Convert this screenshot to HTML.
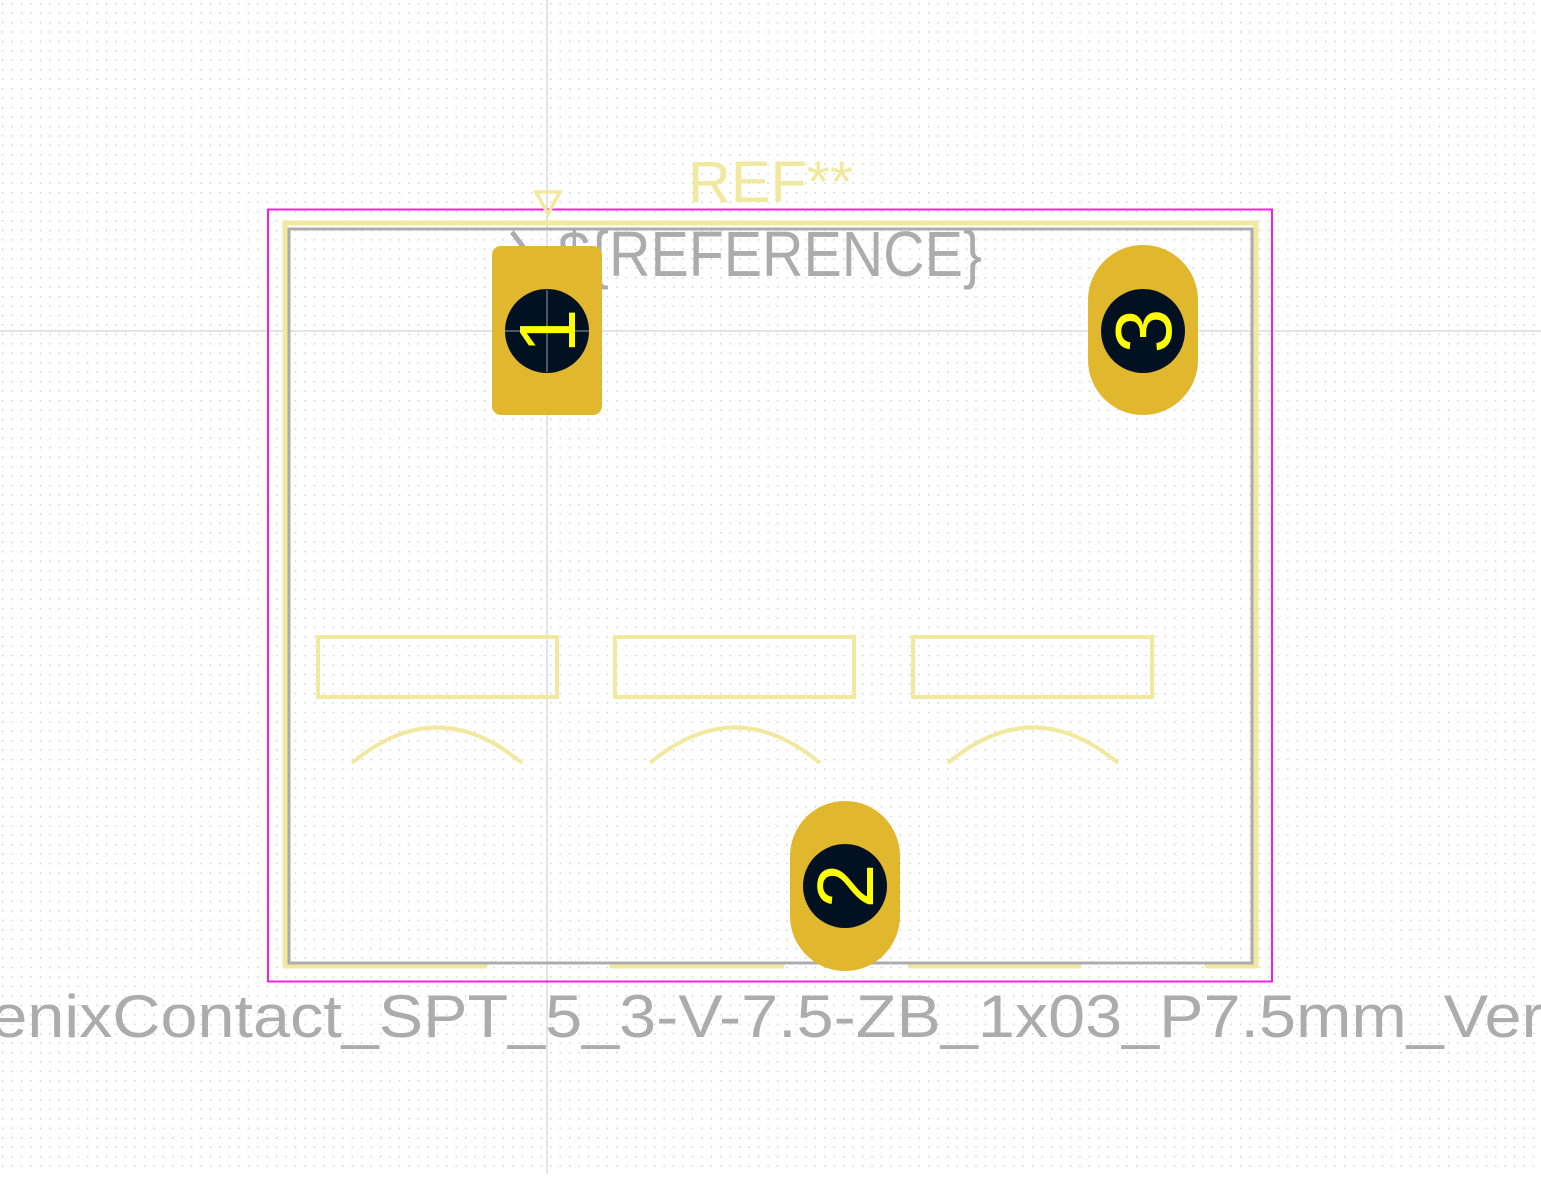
<!DOCTYPE html>
<html><head><meta charset="utf-8"><style>html,body{margin:0;padding:0;background:#fff;overflow:hidden}</style></head>
<body>
<svg width="1541" height="1174" viewBox="0 0 1541 1174" xmlns="http://www.w3.org/2000/svg">
<defs>
<pattern id="g" x="2" y="3" width="9.45" height="9.45" patternUnits="userSpaceOnUse">
<rect width="1.3" height="1.3" fill="#c4c4c4"/>
</pattern>
</defs>
<rect width="1541" height="1174" fill="#fff"/>
<rect width="1541" height="1174" fill="url(#g)"/>
<line x1="547" y1="0" x2="547" y2="1174" stroke="#c8c8c8" stroke-width="1"/>
<line x1="0" y1="331" x2="1541" y2="331" stroke="#c8c8c8" stroke-width="1"/>
<rect x="268" y="209.5" width="1004" height="772" fill="none" stroke="#f020e0" stroke-width="2"/>
<path d="M1256 966 V223 H285 V966" fill="none" stroke="#f2e9a0" stroke-width="5"/>
<g stroke="#f2e9a0" stroke-width="5" stroke-linecap="round">
<line x1="285" y1="966" x2="485" y2="966"/>
<line x1="612" y1="966" x2="782" y2="966"/>
<line x1="910" y1="966" x2="1079" y2="966"/>
<line x1="1207" y1="966" x2="1256" y2="966"/>
</g>
<rect x="289" y="229" width="963" height="734" fill="none" stroke="#acacac" stroke-width="3"/>
<g fill="none" stroke="#f2e9a0" stroke-width="4">
<rect x="318" y="637" width="239" height="60"/>
<rect x="615" y="637" width="239" height="60"/>
<rect x="913" y="637" width="239" height="60"/>
<path d="M352 763 Q437 692 522 763"/>
<path d="M650 763 Q735 692 820 763"/>
<path d="M948 763 Q1033 692 1118 763"/>
<path d="M536 192 H560 L548 214 Z" stroke-width="3.5"/>
</g>
<text x="688" y="202" font-family="Liberation Sans, sans-serif" font-size="58" fill="#f2e9a0" textLength="165" lengthAdjust="spacingAndGlyphs">REF**</text>
<text x="558" y="276" font-family="Liberation Sans, sans-serif" font-size="64" fill="#acacac" textLength="424" lengthAdjust="spacingAndGlyphs">${REFERENCE}</text>
<line x1="512" y1="232" x2="524" y2="248" stroke="#acacac" stroke-width="5"/>
<text x="-128" y="1037" font-family="Liberation Sans, sans-serif" font-size="60" fill="#acacac" textLength="1790" lengthAdjust="spacingAndGlyphs">PhoenixContact_SPT_5_3-V-7.5-ZB_1x03_P7.5mm_Vertical</text>
<rect x="492" y="246" width="110" height="169" rx="9" fill="#e1b72e"/>
<rect x="1088" y="245" width="110" height="170" rx="55" fill="#e1b72e"/>
<rect x="790" y="801" width="110" height="170" rx="55" fill="#e1b72e"/>
<g fill="#021122">
<circle cx="547" cy="331" r="42"/>
<circle cx="1143" cy="331" r="42"/>
<circle cx="845" cy="886" r="42"/>
</g>
<line x1="547" y1="290" x2="547" y2="372" stroke="#9a9a9a" stroke-width="1"/>
<line x1="505" y1="331" x2="589" y2="331" stroke="#9a9a9a" stroke-width="1"/>
<g font-family="Liberation Sans, sans-serif" font-size="80" fill="#ffff00" text-anchor="middle">
<text transform="translate(575 331) rotate(-90)">1</text>
<text transform="translate(1171 331) rotate(-90)">3</text>
<text transform="translate(873 886) rotate(-90)">2</text>
</g>
</svg>
</body></html>
